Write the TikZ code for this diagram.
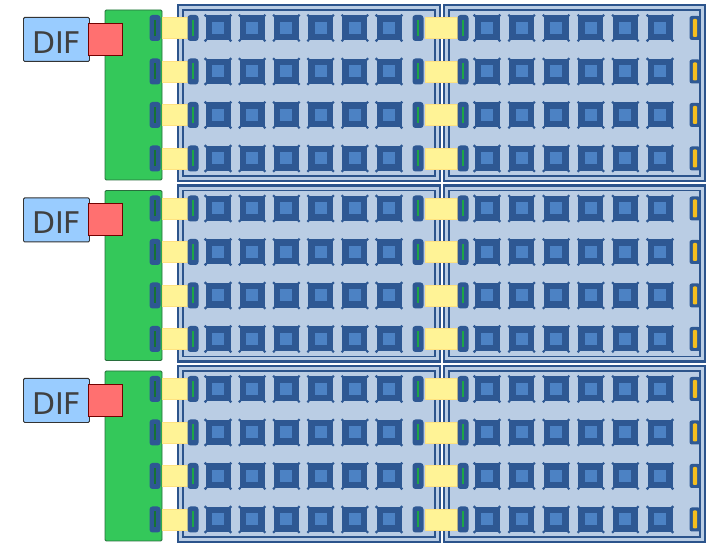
\documentclass[tikz,border=0pt]{standalone}
\usepackage{fontspec}
\setsansfont{DejaVu Sans}
\usetikzlibrary{positioning}
\definecolor{panelfill}{RGB}{186,205,228}
\definecolor{paneledge}{RGB}{44,84,140}
\definecolor{chipdark}{RGB}{46,88,147}
\definecolor{chiplight}{RGB}{76,130,196}
\definecolor{colgreen}{RGB}{52,200,90}
\definecolor{colgreenedge}{RGB}{40,110,60}
\definecolor{linkyellow}{RGB}{255,243,150}
\definecolor{difblue}{RGB}{153,204,255}
\definecolor{difred}{RGB}{255,112,112}
\definecolor{padgreen}{RGB}{30,165,70}
\definecolor{padgold}{RGB}{245,190,30}
\tikzset{
  panel/.style={fill=panelfill, draw=paneledge, line width=2pt},
  panelinner/.style={draw=paneledge, line width=1.3pt},
  column/.style={fill=colgreen, draw=colgreenedge, line width=0.8pt, rounded corners=1pt},
  link/.style={fill=linkyellow, draw=linkyellow!85!orange, line width=0.4pt},
  difbox/.style={fill=difblue, draw=black!80, line width=0.8pt, rounded corners=1pt,
    minimum width=1.98cm, minimum height=1.32cm, inner sep=0pt},
  difred/.style={fill=difred, draw=black!55!red, line width=0.8pt,
    minimum width=1.02cm, minimum height=0.96cm, inner sep=0pt},
  pics/chip/.style={code={
    \fill[chipdark] (-12.5,-12.5) rectangle (12.5,12.5);
    \foreach \sx in {-1,1} \foreach \sy in {-1,1}
      \fill[chipdark] (12.5*\sx,12.5*\sy) circle (1.3pt);
    \fill[chiplight] (-6,-6) rectangle (6,6);
  }},
  pics/pad/.style={code={
    \fill[chipdark, rounded corners=2.5pt] (-5.5,-13) rectangle (5.5,13);
    \fill[#1] (-1,-8) rectangle (1,8);
  }},
  pics/goldpad/.style={code={
    \fill[chipdark, rounded corners=2pt] (-5.5,-12) rectangle (5.5,12);
    \fill[padgold, rounded corners=1pt] (-2.2,-9) rectangle (2.2,9);
  }}
}
\begin{document}
\begin{tikzpicture}[x=0.03cm, y=-0.03cm]
  \useasboundingbox (0,0) rectangle (718,543);
  \foreach \g/\oy in {1/4, 2/184.5, 3/365}{
    \begin{scope}[shift={(0,\oy)}]
      \draw[panel] (178,1) rectangle (440,177);
      \draw[panelinner] (183,6) rectangle (435,172);
      \draw[panel] (444,1) rectangle (705,177);
      \draw[panelinner] (449,6) rectangle (700,172);
      \draw[column] (105,6) rectangle (162,176);
      \node[difbox, anchor=north west] (dif\g) at (23,13) {};
      \node[inner sep=0pt, anchor=west, font=\sffamily\fontsize{25.5}{26}\selectfont, text=black!75]
        (diftext\g) at ([xshift=7.5pt, yshift=-2.5pt]dif\g.west) {DIF};
      \node[difred, anchor=north west] (red\g) at (88,19) {};
      \foreach \r in {24,67.5,111,154.5}{
        \pic at (155,\r) {pad=padgreen!70!black};
        \draw[link] (162,\r-10.5) rectangle (188,\r+10.5);
        \pic at (193,\r) {pad=padgreen};
        \foreach \i in {0,...,5}
          \pic at (218+34.2*\i,\r) {chip};
        \pic at (418,\r) {pad=padgreen};
        \draw[link] (425,\r-10.5) rectangle (457,\r+10.5);
        \pic at (463,\r) {pad=padgreen};
        \foreach \i in {0,...,5}
          \pic at (487+34.6*\i,\r) {chip};
        \pic at (695,\r) {goldpad};
      }
    \end{scope}
  }
\end{tikzpicture}
\end{document}
